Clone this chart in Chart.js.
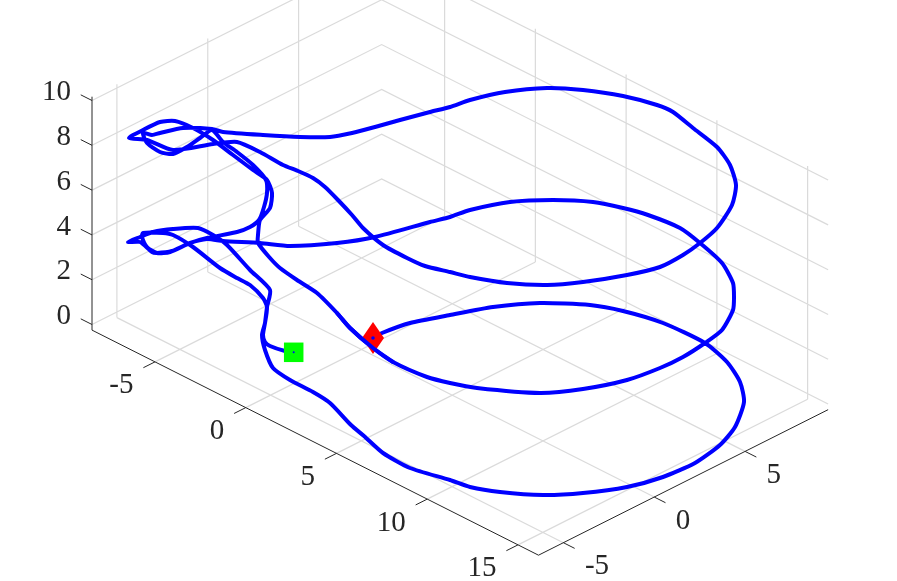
<!DOCTYPE html>
<html>
<head>
<meta charset="utf-8">
<title>3D trajectory</title>
<script src="https://cdn.jsdelivr.net/npm/chart.js@4"></script>
<style>
  html, body { margin: 0; background: #fff; }
  canvas { display: block; }
</style>
</head>
<body>
<canvas id="myChart" width="897" height="581"></canvas>
<script>
// axis ticks
const xTicks = [-5, 0, 5, 10, 15];
const yTicks = [-5, 0, 5];
const zTicks = [0, 2, 4, 6, 8, 10];
const xLimits = [-8.47, 16.13];
const yLimits = [-6.37, 9.57];
const zLimits = [-0.25, 10.17];

// trajectory, in the plane of the view (red marker -> green marker)
const curveU = [373, 382, 410, 450, 493, 540, 590, 623, 663, 705, 727, 740, 744, 735, 720, 695, 663, 627, 583, 543,
  500, 470, 450, 410, 383, 364, 351, 330, 313, 290, 273, 265, 262, 265, 267, 263, 250, 237, 220, 193,
  173, 163, 143, 142, 147, 157, 170, 190, 207, 237, 250, 259, 264, 267, 266, 253, 237, 223, 212, 200,
  187, 173, 160, 147, 143, 152, 160, 183, 212, 223, 263, 300, 330, 352, 375, 400, 430, 450, 470, 505,
  547, 583, 623, 657, 673, 693, 717, 730, 736, 732, 717, 700, 683, 660, 627, 583, 547, 507, 470, 450,
  425, 407, 383, 363, 352, 338, 325, 313, 298, 283, 260, 237, 213, 173, 147, 129, 143, 160, 175, 193,
  213, 233, 253, 267, 272, 270, 260, 258, 258, 270, 280, 297, 317, 337, 350, 373, 393, 427, 450, 477,
  540, 583, 627, 660, 683, 705, 722, 733, 734, 733, 722, 700, 680, 648, 623, 593, 553, 510, 470, 450,
  430, 375, 337, 290, 260, 223, 207, 190, 172, 157, 152, 140, 128, 140, 153, 173, 198, 213, 227, 250,
  270, 267, 265, 263, 265, 270, 285, 293];
const curveV = [338, 333, 323, 315, 307, 303, 305, 311, 323, 343, 362, 382, 402, 427, 445, 463, 477, 487, 493, 495,
  492, 487, 480, 468, 453, 436, 425, 403, 392, 380, 368, 350, 335, 323, 307, 298, 285, 278, 268, 247,
  235, 233, 233, 237, 247, 253, 252, 243, 238, 232, 227, 220, 207, 193, 180, 165, 152, 142, 130, 138,
  147, 154, 152, 143, 133, 135, 133, 128, 129, 132, 135, 137, 137, 133, 127, 120, 112, 107, 100, 92,
  88, 90, 96, 105, 112, 128, 147, 165, 185, 205, 228, 243, 255, 267, 275, 282, 285, 283, 277, 272,
  266, 258, 245, 228, 215, 200, 187, 178, 171, 165, 152, 142, 144, 150, 140, 138, 130, 122, 121, 128,
  140, 155, 170, 180, 193, 208, 220, 235, 243, 258, 268, 280, 293, 313, 328, 348, 362, 377, 383, 388,
  393, 389, 380, 368, 357, 343, 330, 310, 297, 283, 263, 243, 228, 215, 208, 202, 200, 202, 210, 217,
  222, 237, 243, 246, 243, 241, 239, 243, 251, 253, 252, 242, 242, 237, 232, 229, 228, 235, 245, 270,
  290, 307, 323, 335, 342, 346, 351, 352];

// view: where the box corner sits and how one data unit maps onto the view plane
function project(x, y, z) {
  const dx = x - xLimits[1];
  const dy = y - yLimits[0];
  const dz = z - zLimits[0];
  return { x: 538.5 + dx * 18.15 + dy * 18.17, y: 555.2 + dx * 9.15 - dy * 9.13 - dz * 22.4 };
}

function segments(list) {
  const pts = [];
  list.forEach(s => {
    s.forEach(p => pts.push(project(p[0], p[1], p[2])));
    pts.push({ x: null, y: null });
  });
  return pts;
}

const [x0, x1] = xLimits;
const [y0, y1] = yLimits;
const [z0, z1] = zLimits;

const gridLines = [];
xTicks.forEach(t => {
  gridLines.push([[t, y0, z0], [t, y1, z0]]);
  gridLines.push([[t, y1, z0], [t, y1, z1]]);
});
yTicks.forEach(t => {
  gridLines.push([[x0, t, z0], [x1, t, z0]]);
  gridLines.push([[x0, t, z0], [x0, t, z1]]);
});
zTicks.forEach(t => {
  gridLines.push([[x0, y0, t], [x0, y1, t], [x1, y1, t]]);
});

const axisLines = [
  [[x0, y0, z0], [x1, y0, z0], [x1, y1, z0]],
  [[x0, y0, z0], [x0, y0, z1]]
];

// tick marks stick out of the box by a fixed fraction of a unit
const tickLines = [];
xTicks.forEach(t => tickLines.push([[t, y0, z0], [t, y0 - 0.64, z0]]));
yTicks.forEach(t => tickLines.push([[x1, t, z0], [x1 + 0.62, t, z0]]));
zTicks.forEach(t => tickLines.push([[x0, y0, t], [x0 - 0.62, y0, t]]));

const curve = curveU.map((u, i) => ({ x: u, y: curveV[i] }));
const startPoint = curve[0];
const endPoint = { x: 293.7, y: 352.3 };

// this stretch passes in front of the red marker
const frontStart = curveU.indexOf(337);
const frontStretch = curve.slice(frontStart, frontStart + 4);

// red marker is a tall diamond, so it gets its own little canvas
const diamond = document.createElement('canvas');
diamond.width = 22;
diamond.height = 32;
const dctx = diamond.getContext('2d');
dctx.fillStyle = '#ff0000';
dctx.beginPath();
dctx.moveTo(11, 0);
dctx.lineTo(22, 16);
dctx.lineTo(11, 32);
dctx.lineTo(0, 16);
dctx.closePath();
dctx.fill();

const tickFont = '29px "Liberation Serif"';

const tickLabels = {
  id: 'tickLabels',
  afterDraw(chart) {
    const { ctx, scales } = chart;
    const put = (text, p, dx, dy, align) => {
      ctx.textAlign = align;
      ctx.fillText(text, scales.x.getPixelForValue(p.x) + dx, scales.y.getPixelForValue(p.y) + dy);
    };
    ctx.save();
    ctx.font = tickFont;
    ctx.fillStyle = '#262626';
    ctx.textBaseline = 'middle';
    xTicks.forEach(t => put(String(t), project(t, y0, z0), -21.5, 24, 'right'));
    yTicks.forEach(t => put(String(t), project(x1, t, z0), 21.5, 24, 'left'));
    zTicks.forEach(t => put(String(t), project(x0, y0, t), -21, -8, 'right'));
    ctx.restore();
  }
};

function lineSet(data, color, width, order) {
  return { type: 'line', data, borderColor: color, borderWidth: width, pointRadius: 0, spanGaps: false, tension: 0, order };
}

function curveSet(data, order) {
  return Object.assign(lineSet(data, '#0000ff', 4, order), { tension: 0.22, borderJoinStyle: 'round', borderCapStyle: 'round' });
}

const ctx = document.getElementById('myChart').getContext('2d');
const myChart = new Chart(ctx, {
  type: 'scatter',
  data: {
    datasets: [
      lineSet(segments(gridLines), 'rgba(38,38,38,0.17)', 1.2, 9),
      lineSet(segments(axisLines), '#262626', 1, 8),
      lineSet(segments(tickLines), '#262626', 1, 8),
      curveSet(curve, 5),
      { data: [startPoint], pointStyle: diamond, pointRadius: 11, backgroundColor: '#ff0000', order: 4 },
      curveSet(frontStretch, 3),
      { data: [endPoint], pointStyle: 'rect', pointRadius: 13.8, pointBorderWidth: 0, backgroundColor: '#00ff00', order: 2 },
      { data: [startPoint], pointRadius: 1.8, pointBorderWidth: 0, backgroundColor: '#0000ff', order: 1 },
      { data: [endPoint], pointRadius: 1, pointBorderWidth: 0, backgroundColor: '#0000ff', order: 1 }
    ]
  },
  options: {
    responsive: false,
    animation: false,
    layout: { padding: 0, autoPadding: false },
    events: [],
    plugins: {
      legend: { display: false },
      tooltip: { enabled: false }
    },
    scales: {
      x: { type: 'linear', min: 0, max: 897, display: false },
      y: { type: 'linear', min: 0, max: 581, reverse: true, display: false }
    }
  },
  plugins: [tickLabels]
});
</script>
</body>
</html>
